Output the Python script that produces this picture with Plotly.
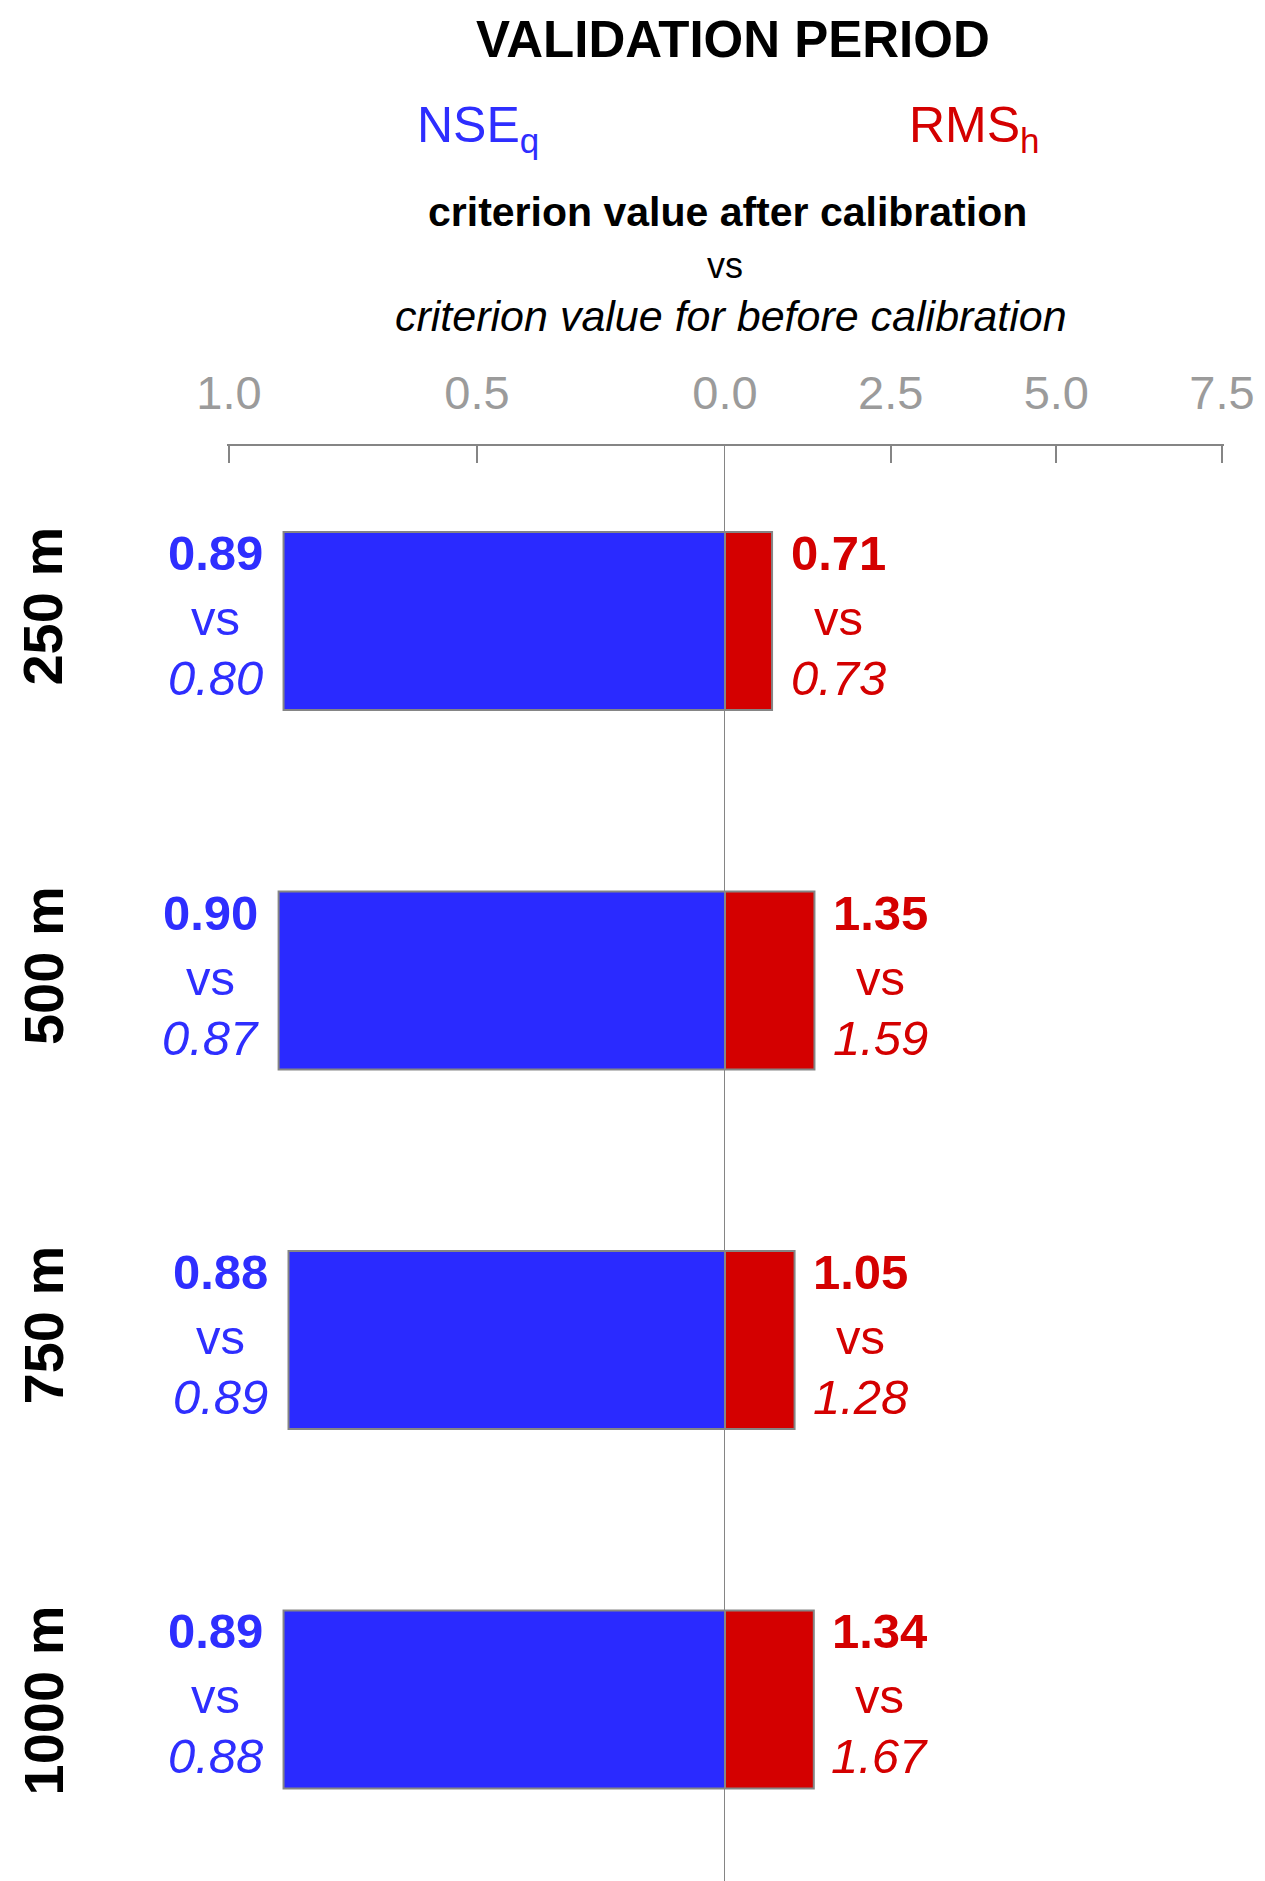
import plotly.graph_objects as go

# Pixel sizes (grid cell sizes)
sizes = ["250 m", "500 m", "750 m", "1000 m"]

# NSE of discharge: after calibration vs before calibration
nse_after = [0.89, 0.90, 0.88, 0.89]
nse_before = [0.80, 0.87, 0.89, 0.88]

# RMS of water depth: after calibration vs before calibration
rms_after = [0.71, 1.35, 1.05, 1.34]
rms_before = [0.73, 1.59, 1.28, 1.67]

nse_ticks = [1.0, 0.5, 0.0]
rms_ticks = [2.5, 5.0, 7.5]

BLUE_BAR = "#2A2AFF"
BLUE_TXT = "#2E2EFF"
RED = "#D40000"
GREY = "#858585"
TICK_GREY = "#9B9B9B"
FONT = "Liberation Sans, Arial, sans-serif"

W, H = 1265, 1881
ML, MR, MT, MB = 227, 41, 446, 0
PW, PH = W - ML - MR, H - MT - MB


def px_x(x):
    return (x - ML) / PW


def px_y(y):
    return (H - MB - y) / PH


split = 0.4995
ypos = list(range(len(sizes)))

fig = go.Figure()
fig.add_trace(go.Bar(
    y=ypos, x=nse_after, orientation="h", xaxis="x", yaxis="y",
    width=0.495, marker=dict(color=BLUE_BAR, line=dict(color=GREY, width=2)),
    showlegend=False, hoverinfo="skip",
))
fig.add_trace(go.Bar(
    y=ypos, x=rms_after, orientation="h", xaxis="x2", yaxis="y",
    width=0.495, marker=dict(color=RED, line=dict(color=GREY, width=2)),
    showlegend=False, hoverinfo="skip",
))

axis_common = dict(
    side="top", anchor="y", showgrid=False, zeroline=False,
    showline=True, linecolor=GREY, linewidth=2,
    ticks="inside", ticklen=17, tickwidth=2, tickcolor=GREY,
    tickfont=dict(family=FONT, size=47, color=TICK_GREY),
    ticklabelstandoff=16, fixedrange=True,
)

fig.update_layout(
    width=W, height=H,
    margin=dict(l=ML, r=MR, t=MT, b=MB),
    paper_bgcolor="white", plot_bgcolor="white",
    barmode="overlay",
    # small padding beyond the end ticks so they stay drawn
    xaxis=dict(domain=[0, split], range=[1.004, 0.0],
               tickvals=nse_ticks, ticktext=[f"{v:.1f}" for v in nse_ticks],
               **axis_common),
    xaxis2=dict(domain=[split, 1], range=[0, 7.53],
                tickvals=rms_ticks, ticktext=[f"{v:.1f}" for v in rms_ticks],
                **axis_common),
    yaxis=dict(range=[3.505, -0.487], showticklabels=False, showgrid=False,
               zeroline=False, showline=False, fixedrange=True),
)

# Central zero line
fig.add_shape(type="line", xref="x", yref="paper", x0=0, x1=0, y0=0, y1=1,
              line=dict(color=GREY, width=2), layer="above")

ann = []
# Header texts
ann.append(dict(text="<b>VALIDATION PERIOD</b>", x=px_x(733), y=px_y(40),
                font=dict(family=FONT, size=51, color="black")))
ann.append(dict(text="NSE<sub>q</sub>", x=px_x(478), y=px_y(128),
                font=dict(family=FONT, size=50, color=BLUE_TXT)))
ann.append(dict(text="RMS<sub>h</sub>", x=px_x(974), y=px_y(128),
                font=dict(family=FONT, size=50, color=RED)))
ann.append(dict(text="<b>criterion value after calibration</b>", x=px_x(727), y=px_y(212),
                font=dict(family=FONT, size=41, color="black")))
ann.append(dict(text="vs", x=px_x(725), y=px_y(265),
                font=dict(family=FONT, size=36, color="black")))
ann.append(dict(text="<i>criterion value for before calibration</i>", x=px_x(731), y=px_y(316),
                font=dict(family=FONT, size=43, color="black")))
for a in ann:
    a.update(xref="paper", yref="paper", xanchor="center", yanchor="middle", showarrow=False)

# Row labels (end of text aligned just above each bar's top) and value labels
for i, name in enumerate(sizes):
    ann.append(dict(text=f"<b>{name}</b>", xref="paper", yref="y", x=px_x(43), y=i,
                    yshift=96, textangle=-90, xanchor="center", yanchor="top",
                    showarrow=False,
                    font=dict(family=FONT, size=56, color="black")))
    for xref, xv, shift, color, after, before in (
        ("x", nse_after[i], -68, BLUE_TXT, nse_after[i], nse_before[i]),
        ("x2", rms_after[i], 66, RED, rms_after[i], rms_before[i]),
    ):
        lines = [
            (f"<b>{after:.2f}</b>", 68),
            ("vs", 3),
            (f"<i>{before:.2f}</i>", -57),
        ]
        for txt, ys in lines:
            ann.append(dict(text=txt, xref=xref, yref="y", x=xv, y=i,
                            xshift=shift, yshift=ys, xanchor="center", yanchor="middle",
                            showarrow=False,
                            font=dict(family=FONT, size=49, color=color)))

fig.update_layout(annotations=ann)
fig.write_html("out.html")
